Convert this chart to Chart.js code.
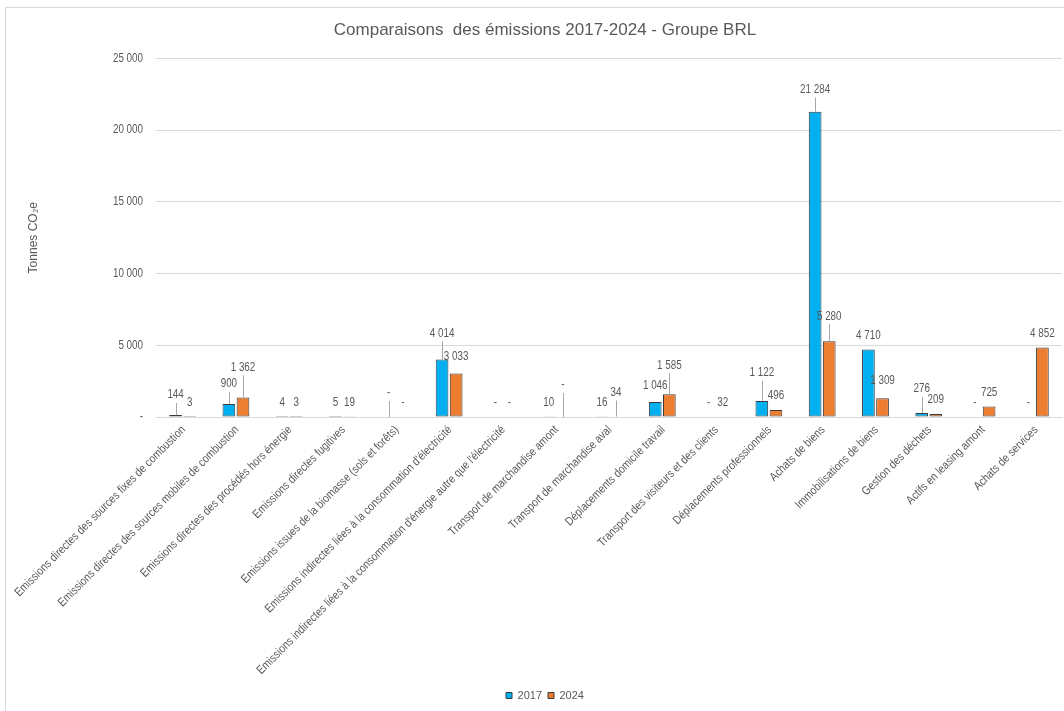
<!DOCTYPE html>
<html>
<head>
<meta charset="utf-8">
<script src="https://cdn.jsdelivr.net/npm/chart.js@4/dist/chart.umd.min.js"></script>
<style>
  html, body { margin: 0; padding: 0; background: #fff; }
  #frame { position: absolute; left: 5px; top: 7px; width: 1100px; height: 760px; border: 1px solid #d9d9d9; }
  #wrap { position: absolute; left: 0; top: 0; width: 1064px; height: 711px; }
</style>
</head>
<body>
<div id="frame"></div>
<div id="wrap"><canvas id="myChart"></canvas></div>
<script>
// categories and values
const categories = [
	'Emissions directes des sources fixes de combustion',
	'Emissions directes des sources mobiles de combustion',
	'Emissions directes des procédés hors énergie',
	'Emissions directes fugitives',
	'Emissions issues de la biomasse (sols et forêts)',
	"Emissions indirectes liées à la consommation d'électricité",
	"Emissions indirectes liées à la consommation d'énergie autre que l'électricité",
	'Transport de marchandise amont',
	'Transport de marchandise aval',
	'Déplacements domicile travail',
	'Transport des visiteurs et des clients',
	'Déplacements professionnels',
	'Achats de biens',
	'Immobilisations de biens',
	'Gestion des déchets',
	'Actifs en leasing amont',
	'Achats de services'
];
const values2017 = [144, 900, 4, 5, 0, 4014, 0, 10, 16, 1046, 0, 1122, 21284, 4710, 276, 0, 0];
const values2024 = [3, 1362, 3, 19, 0, 3033, 0, 0, 34, 1585, 32, 496, 5280, 1309, 209, 725, 4852];
const yTicks = [0, 5000, 10000, 15000, 20000, 25000];

// extra lift (px) of some data labels, as Excel moved them onto leader lines
const labelLift2017 = [6, 6, 0, 0, 10, 12, 0, 0, 0, 2, 0, 14, 8, 0, 10, 0, 0];
const labelLift2024 = [0, 16, 0, 0, 0, 3, 0, 18, 10, 15, 0, 0, 11, 4, 0, 0, 0];

const fontFam = "'Liberation Sans', Arial, sans-serif";
const grey = '#595959';

function fmt(v) {
	if (v === 0) return '-';
	return String(Math.round(v)).replace(/\B(?=(\d{3})+(?!\d))/g, ' ');
}

// text squeezed horizontally, to look like Arial Narrow
function narrowText(ctx, text, x, y, align, angle, squeeze) {
	ctx.save();
	ctx.translate(x, y);
	if (angle) ctx.rotate(angle);
	ctx.scale(squeeze, 1);
	ctx.textAlign = align;
	ctx.fillText(text, 0, 0);
	ctx.restore();
}

const customText = {
	id: 'customText',
	afterDraw(chart) {
		let ctx = chart.ctx;
		let xs = chart.scales.x;
		let ys = chart.scales.y;
		ctx.save();
		ctx.fillStyle = grey;
		ctx.font = '12px ' + fontFam;
		ctx.textBaseline = 'middle';

		// y tick labels
		yTicks.forEach(function(v) {
			narrowText(ctx, fmt(v), xs.left - 13, ys.getPixelForValue(v), 'right', 0, 0.82);
		});

		// x tick labels at 45 degrees
		categories.forEach(function(c, i) {
			narrowText(ctx, c, xs.getPixelForValue(i) + 1, xs.top + 11, 'right', -Math.PI / 4, 0.85);
		});

		// data labels with leader lines
		const lifts = [labelLift2017, labelLift2024];
		chart.data.datasets.forEach(function(ds, i) {
			let meta = chart.getDatasetMeta(i);
			meta.data.forEach(function(bar, j) {
				let lift = lifts[i][j];
				let ty = bar.y - 14 - lift;
				if (lift >= 5) {
					ctx.strokeStyle = '#a6a6a6';
					ctx.lineWidth = 1;
					ctx.beginPath();
					ctx.moveTo(Math.round(bar.x) + 0.5, ty + 8);
					ctx.lineTo(Math.round(bar.x) + 0.5, bar.y);
					ctx.stroke();
				}
				narrowText(ctx, fmt(ds.data[j]), bar.x, ty, 'center', 0, 0.82);
			});
		});
		ctx.restore();
	}
};

function barBorder(c) {
	return c.raw === 0 ? 0 : 1;
}

let ctx = document.getElementById('myChart').getContext('2d');

let chart = new Chart(ctx, {
	type: 'bar',
	data: {
		labels: categories,
		datasets: [{
			label: '2017',
			data: values2017,
			backgroundColor: '#00b0f0',
			borderColor: '#3a3a3a',
			borderWidth: barBorder,
			borderSkipped: false
		}, {
			label: '2024',
			data: values2024,
			backgroundColor: '#ed7d31',
			borderColor: '#3a3a3a',
			borderWidth: barBorder,
			borderSkipped: false
		}]
	},
	options: {
		responsive: true,
		maintainAspectRatio: false,
		animation: false,
		categoryPercentage: 0.53,
		barPercentage: 0.9,
		layout: { padding: { top: 10, right: 0, bottom: 0, left: 26 } },
		plugins: {
			title: {
				display: true,
				text: 'Comparaisons  des émissions 2017-2024 - Groupe BRL',
				color: grey,
				font: { family: fontFam, size: 17, weight: 'normal' },
				padding: { top: 10, bottom: 18 }
			},
			legend: {
				position: 'bottom',
				labels: {
					color: grey,
					font: { family: fontFam, size: 11 },
					boxWidth: 6,
					boxHeight: 6,
					padding: 6,
					generateLabels: function(chart) {
						return chart.data.datasets.map(function(ds, i) {
							return {
								text: ds.label,
								fillStyle: ds.backgroundColor,
								strokeStyle: ds.borderColor,
								lineWidth: 1,
								fontColor: grey,
								datasetIndex: i
							};
						});
					}
				}
			},
			tooltip: { enabled: false }
		},
		scales: {
			x: {
				grid: { display: false },
				border: { color: '#d9d9d9' },
				ticks: { display: false },
				afterFit: function(scale) { scale.height = 267; }
			},
			y: {
				min: 0,
				max: 25000,
				afterBuildTicks: function(scale) {
					scale.ticks = yTicks.map(function(v) { return { value: v }; });
				},
				grid: { color: '#d9d9d9', drawTicks: false },
				border: { display: false },
				ticks: { display: false },
				title: {
					display: true,
					text: 'Tonnes CO₂e',
					color: grey,
					font: { family: fontFam, size: 12 },
					padding: { top: 0, bottom: 0 }
				},
				afterFit: function(scale) { scale.width = 130; }
			},
			yRight: {
				position: 'right',
				display: true,
				grid: { display: false },
				border: { display: false },
				ticks: { display: false },
				afterFit: function(scale) { scale.width = 2; }
			}
		}
	},
	plugins: [customText]
});
</script>
</body>
</html>
